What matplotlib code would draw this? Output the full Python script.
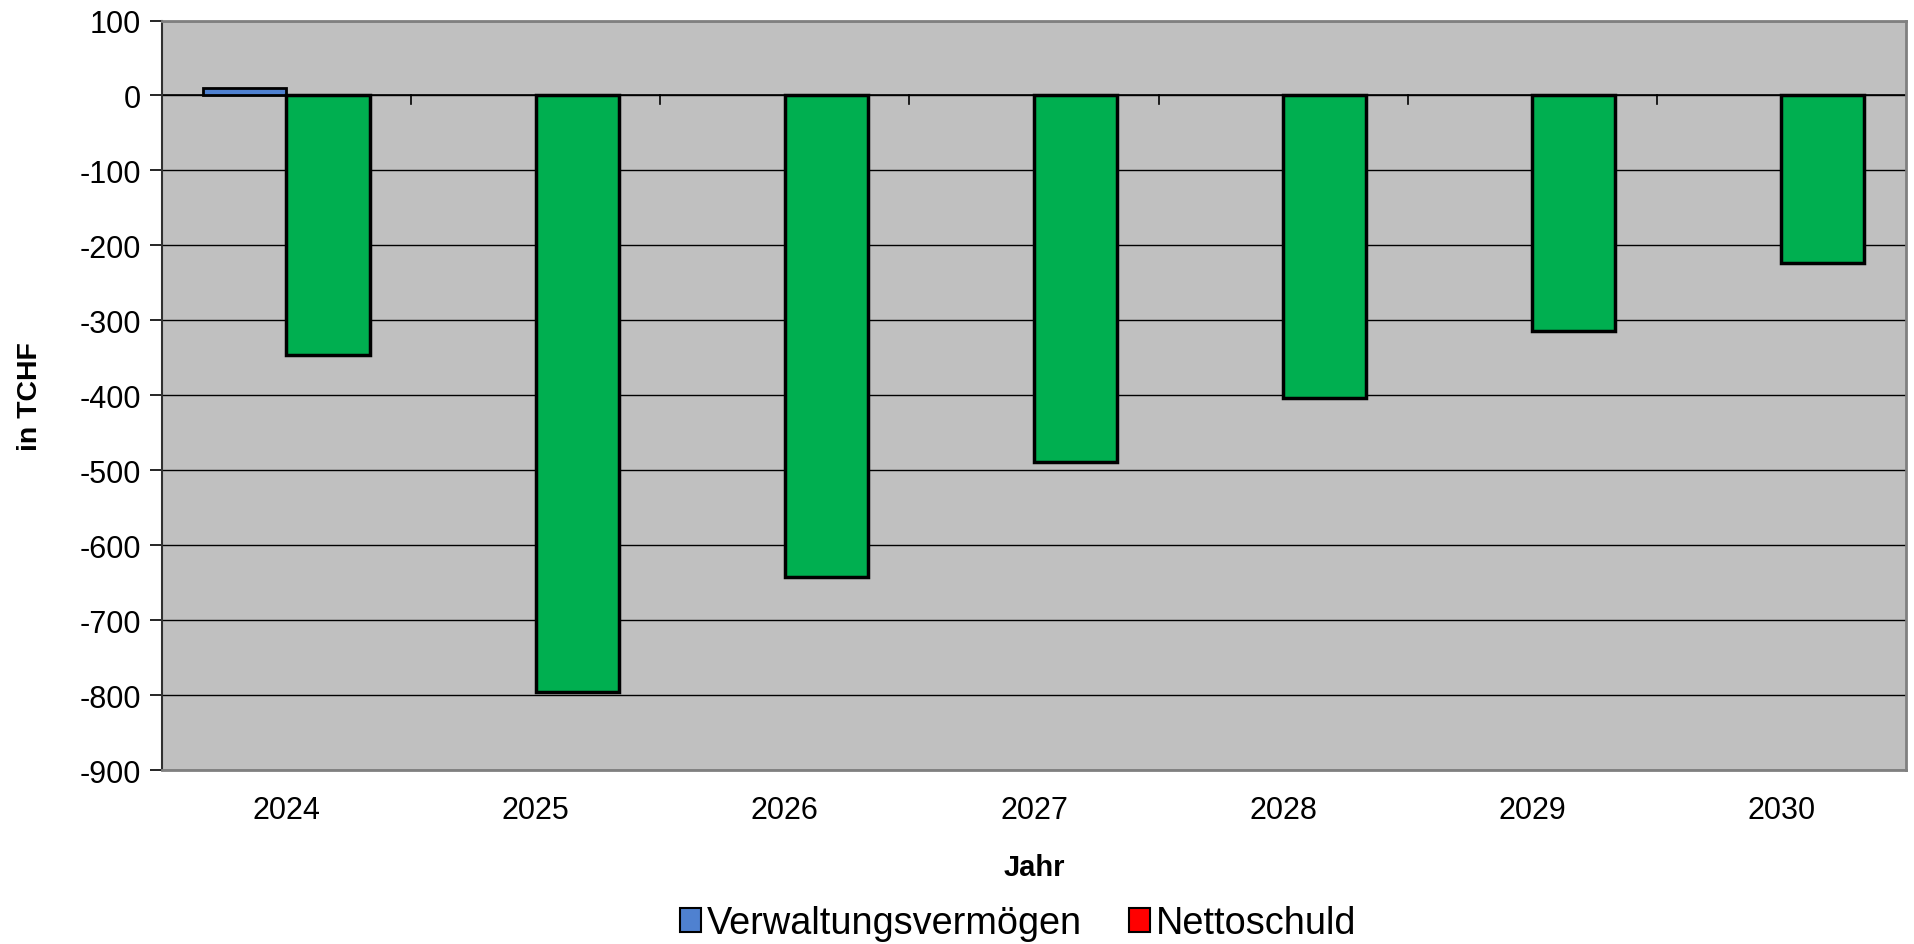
import matplotlib
matplotlib.use("Agg")
import matplotlib.pyplot as plt
import numpy as np
from matplotlib.patches import Patch

plt.rcParams['font.family'] = ['Liberation Sans', 'DejaVu Sans']
plt.rcParams['axes.unicode_minus'] = False

jahre = ['2024', '2025', '2026', '2027', '2028', '2029', '2030']
verwaltungsvermoegen = [10, 0, 0, 0, 0, 0, 0]
gruene_werte = [-346, -796, -643, -489, -403, -314, -224]
legend_labels = ['Verwaltungsvermögen', 'Nettoschuld']
y_ticks = [100, 0, -100, -200, -300, -400, -500, -600, -700, -800, -900]

fig = plt.figure(figsize=(19.14, 9.45), dpi=100)
ax = fig.add_axes([0.0846, 0.1841, 0.9112, 0.7931])
ax.set_facecolor('#C0C0C0')

x = np.arange(len(jahre))
w = 1 / 3
ax.set_ylim(-900, 100)
ax.set_xlim(-0.5, len(jahre) - 0.5)
ax.set_yticks(y_ticks)
ax.yaxis.grid(True, color='black', linewidth=1)
ax.set_axisbelow(True)

for xi, v in zip(x, verwaltungsvermoegen):
    if v != 0:
        ax.bar(xi - w / 2, v, width=w, color='#4F81D0', edgecolor='black', linewidth=2, zorder=3)
ax.bar(x + w / 2, gruene_werte, width=w, color='#00AF50', edgecolor='black', linewidth=2.5, zorder=3)

# zero axis with category tick marks
ax.axhline(0, color='black', linewidth=1.2, zorder=2)
for b in np.arange(0.5, len(jahre) - 0.5, 1):
    ax.plot([b, b], [0, -12], color='black', linewidth=1.2, zorder=2)

ax.set_xticks(x)
ax.set_xticklabels(jahre)
ax.tick_params(axis='x', length=0, pad=18, labelsize=22)
ax.tick_params(axis='y', length=9, width=1.2, pad=6, labelsize=22)

for s in ['top', 'right', 'bottom']:
    ax.spines[s].set_color('#808080')
    ax.spines[s].set_linewidth(2)
ax.spines['left'].set_color('#303030')
ax.spines['left'].set_linewidth(1.5)

ax.set_xlabel('Jahr', fontsize=21, fontweight='bold', labelpad=20)
fig.text(0.0157, 0.58, 'in TCHF', rotation=90, fontsize=20.5, fontweight='bold', ha='center', va='center')

handles = [Patch(facecolor='#4F81D0', edgecolor='black', linewidth=1.5),
           Patch(facecolor='#FF0000', edgecolor='black', linewidth=1.5)]
fig.legend(handles, legend_labels, loc='center', bbox_to_anchor=(0.532, 0.022), ncol=2,
           fontsize=27.3, frameon=False, handlelength=0.55, handleheight=0.6,
           handletextpad=0.15, columnspacing=1.25)

fig.savefig('out.png', dpi=100)
